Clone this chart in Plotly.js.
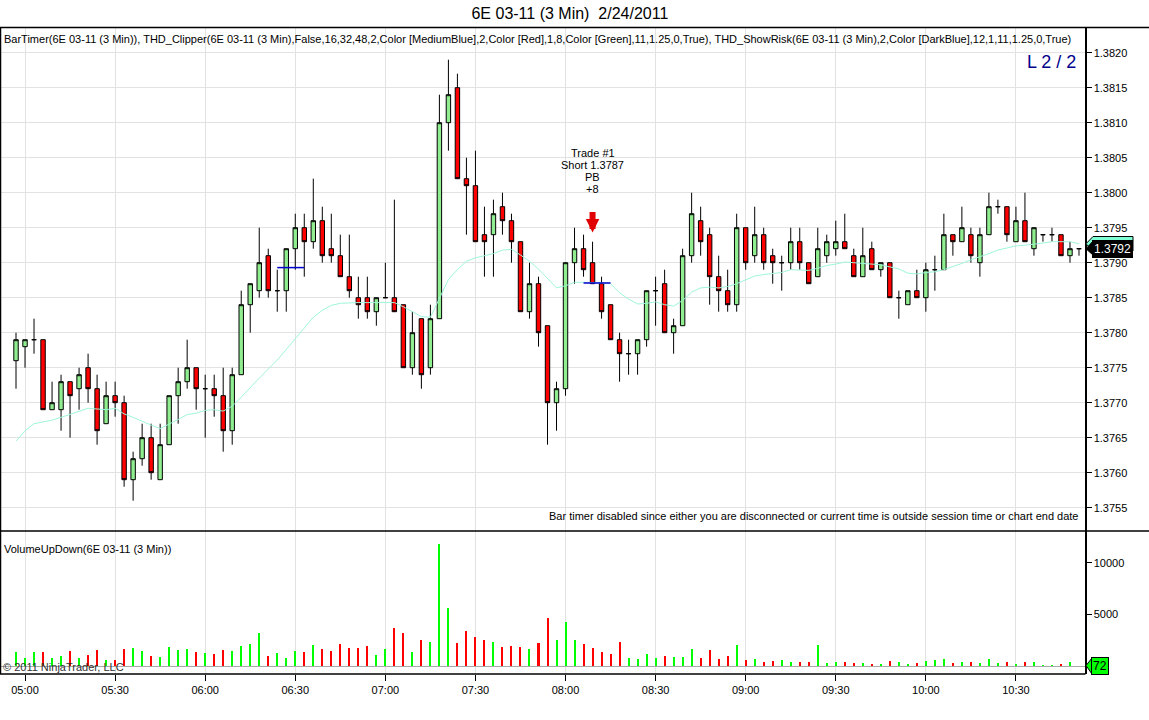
<!DOCTYPE html>
<html>
<head>
<meta charset="utf-8">
<script src="https://cdn.plot.ly/plotly-3.0.1.min.js"></script>
<style>
  html, body { margin: 0; padding: 0; background: #ffffff; }
  #chart { width: 1149px; height: 720px; }
</style>
</head>
<body>
<div id="chart"></div>
<script>
// ---------------- DATA ----------------
const sessionDate = '2011-02-24';
const firstBarTime = '04:57';
const barMinutes = 3;

const openPx = [
  1.3776,1.3778,1.3779,1.3779,1.3769,1.3769,1.3773,1.3772,1.3775,1.3772,
  1.3767,1.3771,1.3770,1.3759,1.3762,1.3765,1.3759,1.3764,1.3771,1.3773,
  1.3775,1.3772,1.3772,1.3771,1.3766,1.3774,1.3784,1.3786,1.3791,1.3786,
  1.3786,1.3792,1.3795,1.3793,1.3796,1.3792,1.3791,1.3788,1.3785,1.3785,
  1.3783,1.3785,1.3785,1.3784,1.3775,1.3782,1.3775,1.3782,1.3810,1.3815,
  1.3802,1.3801,1.3794,1.3794,1.3798,1.3796,1.3793,1.3783,1.3787,1.3781,
  1.3770,1.3772,1.3790,1.3792,1.3790,1.3787,1.3784,1.3779,1.3777,1.3777,
  1.3779,1.3786,1.3787,1.3780,1.3781,1.3791,1.3796,1.3794,1.3788,1.3786,
  1.3784,1.3795,1.3791,1.3794,1.3791,1.3790,1.3790,1.3793,1.3790,1.3788,
  1.3791,1.3792,1.3793,1.3791,1.3788,1.3792,1.3789,1.3790,1.3785,1.3784,
  1.3786,1.3785,1.3789,1.3789,1.3794,1.3793,1.3794,1.3790,1.3794,1.3798,
  1.3798,1.3793,1.3796,1.3792,1.3794,1.3794,1.3794,1.3791,1.3792
];
const highPx = [
  1.3780,1.3779,1.3782,1.3779,1.3773,1.3774,1.3773,1.3775,1.3777,1.3774,
  1.3773,1.3773,1.3771,1.3763,1.3767,1.3767,1.3767,1.3771,1.3775,1.3779,
  1.3775,1.3774,1.3774,1.3775,1.3775,1.3786,1.3787,1.3795,1.3792,1.3789,
  1.3792,1.3797,1.3797,1.3802,1.3798,1.3797,1.3794,1.3794,1.3788,1.3788,
  1.3785,1.3790,1.3799,1.3784,1.3783,1.3782,1.3784,1.3814,1.3819,1.3817,
  1.3805,1.3806,1.3798,1.3799,1.3800,1.3797,1.3793,1.3790,1.3788,1.3781,
  1.3773,1.3790,1.3795,1.3794,1.3793,1.3788,1.3784,1.3780,1.3779,1.3779,
  1.3786,1.3788,1.3789,1.3782,1.3792,1.3800,1.3798,1.3795,1.3791,1.3789,
  1.3797,1.3795,1.3798,1.3795,1.3792,1.3791,1.3795,1.3795,1.3790,1.3795,
  1.3794,1.3796,1.3797,1.3792,1.3795,1.3793,1.3790,1.3790,1.3786,1.3786,
  1.3789,1.3790,1.3791,1.3797,1.3794,1.3798,1.3795,1.3795,1.3800,1.3799,
  1.3798,1.3798,1.3800,1.3795,1.3794,1.3795,1.3794,1.3793,1.3792
];
const lowPx = [
  1.3772,1.3775,1.3777,1.3769,1.3769,1.3766,1.3765,1.3769,1.3770,1.3764,
  1.3767,1.3768,1.3758,1.3756,1.3761,1.3759,1.3759,1.3764,1.3767,1.3772,
  1.3769,1.3765,1.3768,1.3763,1.3764,1.3774,1.3780,1.3785,1.3785,1.3783,
  1.3783,1.3789,1.3788,1.3792,1.3790,1.3790,1.3788,1.3785,1.3782,1.3782,
  1.3781,1.3785,1.3783,1.3775,1.3774,1.3772,1.3774,1.3782,1.3806,1.3802,
  1.3794,1.3793,1.3788,1.3788,1.3794,1.3790,1.3783,1.3782,1.3778,1.3764,
  1.3766,1.3771,1.3787,1.3788,1.3787,1.3782,1.3779,1.3773,1.3774,1.3774,
  1.3778,1.3781,1.3780,1.3777,1.3781,1.3790,1.3791,1.3784,1.3783,1.3783,
  1.3783,1.3789,1.3790,1.3789,1.3787,1.3786,1.3789,1.3789,1.3787,1.3788,
  1.3790,1.3791,1.3792,1.3788,1.3788,1.3789,1.3788,1.3785,1.3782,1.3784,
  1.3785,1.3783,1.3786,1.3789,1.3791,1.3793,1.3790,1.3788,1.3794,1.3797,
  1.3793,1.3793,1.3793,1.3791,1.3793,1.3793,1.3791,1.3790,1.3791
];
const closePx = [
  1.3779,1.3779,1.3779,1.3769,1.3770,1.3773,1.3771,1.3774,1.3772,1.3766,
  1.3771,1.3770,1.3759,1.3762,1.3765,1.3760,1.3764,1.3771,1.3773,1.3775,
  1.3772,1.3772,1.3771,1.3766,1.3774,1.3784,1.3787,1.3790,1.3786,1.3786,
  1.3792,1.3795,1.3793,1.3796,1.3791,1.3791,1.3788,1.3786,1.3784,1.3783,
  1.3785,1.3785,1.3783,1.3775,1.3780,1.3774,1.3782,1.3810,1.3814,1.3802,
  1.3801,1.3793,1.3793,1.3797,1.3796,1.3793,1.3783,1.3787,1.3780,1.3770,
  1.3772,1.3790,1.3792,1.3789,1.3787,1.3783,1.3779,1.3777,1.3777,1.3779,
  1.3786,1.3786,1.3780,1.3781,1.3791,1.3797,1.3793,1.3788,1.3786,1.3784,
  1.3795,1.3790,1.3794,1.3790,1.3790,1.3790,1.3793,1.3790,1.3787,1.3792,
  1.3793,1.3793,1.3792,1.3788,1.3791,1.3789,1.3790,1.3785,1.3785,1.3786,
  1.3785,1.3789,1.3789,1.3794,1.3793,1.3795,1.3791,1.3794,1.3798,1.3798,
  1.3794,1.3796,1.3793,1.3795,1.3794,1.3794,1.3791,1.3792,1.3792
];
const volume = [
  1387,806,1387,1387,806,1000,1484,806,1097,1581,
  613,613,1677,1774,1484,1000,903,1871,1613,1677,
  1387,1290,1194,1581,1484,1968,2161,3226,1000,1290,
  806,1484,1387,2065,1677,1484,2161,1774,1774,1968,
  1097,1677,3710,3226,1387,2548,2355,11839,5645,2258,
  3419,2839,2548,2355,1871,1968,1871,1677,2258,4678,
  2548,4290,2548,2161,1774,1387,1194,2355,806,710,
  1194,806,1000,903,903,1677,806,1581,710,1000,
  2065,613,710,419,516,613,419,419,419,2065,
  323,419,419,323,323,226,226,516,419,226,
  323,516,613,710,323,419,419,323,710,323,
  419,226,419,419,129,129,226,419,72
];
const smaLine = [
  1.37645,1.37660,1.37670,1.37672,1.37675,1.37679,1.37683,1.37688,1.37692,1.37691,
  1.37690,1.37692,1.37684,1.37679,1.37673,1.37668,1.37663,1.37669,1.37676,1.37683,
  1.37685,1.37689,1.37690,1.37688,1.37695,1.37708,1.37722,1.37735,1.37748,1.37761,
  1.37776,1.37791,1.37807,1.37822,1.37832,1.37839,1.37842,1.37843,1.37843,1.37843,
  1.37843,1.37843,1.37843,1.37837,1.37830,1.37823,1.37822,1.37849,1.37876,1.37890,
  1.37902,1.37907,1.37910,1.37913,1.37918,1.37919,1.37911,1.37902,1.37891,1.37878,
  1.37864,1.37867,1.37872,1.37872,1.37872,1.37871,1.37870,1.37857,1.37848,1.37841,
  1.37842,1.37844,1.37840,1.37838,1.37846,1.37858,1.37864,1.37865,1.37864,1.37866,
  1.37870,1.37875,1.37881,1.37883,1.37884,1.37886,1.37890,1.37890,1.37889,1.37892,
  1.37896,1.37898,1.37901,1.37900,1.37899,1.37898,1.37897,1.37894,1.37891,1.37885,
  1.37884,1.37886,1.37887,1.37890,1.37894,1.37899,1.37904,1.37908,1.37913,1.37918,
  1.37921,1.37924,1.37925,1.37926,1.37928,1.37930,1.37930,1.37930,1.37927
];
// THD_Clipper levels: [price, first bar index, last bar index] (0-based)
const clipLevels = [1.37893, 1.37871];
const clipFrom = [29, 63];
const clipTo = [32, 66];
// Trade marker
const tradeBar = 64;
const tradeLines = ['Trade #1', 'Short 1.3787', 'PB', '+8'];
const priceTicks = [1.3755,1.3760,1.3765,1.3770,1.3775,1.3780,1.3785,1.3790,1.3795,1.3800,1.3805,1.3810,1.3815,1.3820];
const volTicks = [5000, 10000];

// ---------------- BUILD ----------------
function pad(n){ return (n < 10 ? '0' : '') + n; }
const times = [];
(function(){
  const p = firstBarTime.split(':');
  let m0 = parseInt(p[0],10)*60 + parseInt(p[1],10);
  for (let i = 0; i < openPx.length; i++) {
    const m = m0 + i*barMinutes;
    times.push(sessionDate + ' ' + pad(Math.floor(m/60)) + ':' + pad(m%60));
  }
})();

const volColors = openPx.map((o,i) => closePx[i] >= o ? '#00ff00' : '#ff0000');
const FONT = 'Liberation Sans, Arial, sans-serif';

const traces = [];
traces.push({
  type: 'scatter', mode: 'lines', x: times, y: smaLine,
  line: { color: '#9ff5dc', width: 1 }, xaxis: 'x', yaxis: 'y', hoverinfo: 'skip'
});
traces.push({
  type: 'candlestick', x: times, open: openPx, high: highPx, low: lowPx, close: closePx,
  xaxis: 'x', yaxis: 'y',
  increasing: { line: { color: '#000000', width: 1 }, fillcolor: '#90ee90' },
  decreasing: { line: { color: '#000000', width: 1 }, fillcolor: '#ff0000' },
  whiskerwidth: 0
});
for (let k = 0; k < clipLevels.length; k++) {
  traces.push({
    type: 'scatter', mode: 'lines',
    x: [times[clipFrom[k]], times[clipTo[k]]], y: [clipLevels[k], clipLevels[k]],
    line: { color: '#0000cd', width: 1.5 }, xaxis: 'x', yaxis: 'y', hoverinfo: 'skip'
  });
}
traces.push({
  type: 'bar', x: times, y: volume, width: 40000,
  marker: { color: volColors, line: { width: 0 } },
  xaxis: 'x', yaxis: 'y2'
});

// plot area: x 1..1085, y 27..674
const PT = 27, PB = 674, PH = PB - PT;
function py(Y){ return (PB - Y) / PH; }
function px(X){ return (X - 1) / 1084; }
const split = py(531);
// price-axis value for a pixel row (used for marker boxes only)
function priceAt(Y){ return 1.375167 + (531 - Y) / 70000; }
function volAt(Y){ return (666.3 - Y) * 96.5; }

const lastClose = closePx[closePx.length-1];
const lastSma = smaLine[smaLine.length-1];
const lastVol = volume[volume.length-1];

const annotations = [
  { xref:'paper', yref:'paper', x: px(2), y: py(39), xanchor:'left', yanchor:'middle', showarrow:false,
    text:'BarTimer(6E 03-11 (3 Min)), THD_Clipper(6E 03-11 (3 Min),False,16,32,48,2,Color [MediumBlue],2,Color [Red],1,8,Color [Green],11,1.25,0,True), THD_ShowRisk(6E 03-11 (3 Min),2,Color [DarkBlue],12,1,11,1.25,0,True)',
    font:{ family: FONT, size: 11, color:'#000000' } },
  { xref:'paper', yref:'paper', x: px(1078), y: py(62), xanchor:'right', yanchor:'middle', showarrow:false,
    text:'L 2 / 2', font:{ family: FONT, size: 18, color:'#00008b' } },
  { xref:'paper', yref:'paper', x: px(1081), y: py(516), xanchor:'right', yanchor:'middle', showarrow:false,
    text:'Bar timer disabled since either you are disconnected or current time is outside session time or chart end date',
    font:{ family: FONT, size: 11, color:'#000000' } },
  { xref:'paper', yref:'paper', x: px(2), y: py(549), xanchor:'left', yanchor:'middle', showarrow:false,
    text:'VolumeUpDown(6E 03-11 (3 Min))', font:{ family: FONT, size: 11, color:'#000000' } },
  { xref:'paper', yref:'paper', x: px(1), y: py(667), xanchor:'left', yanchor:'middle', showarrow:false,
    text:'© 2011 NinjaTrader, LLC', font:{ family: FONT, size: 11, color:'#333333' } },
  // trade arrow
  { xref:'x', yref:'y', x: times[tradeBar], y: 1.37943, ax: 0, ay: -22, showarrow:true,
    arrowhead: 2, arrowsize: 0.45, arrowwidth: 6, arrowcolor:'#e00000', standoff: 0, text:'' },
  // last price / last volume markers
  { xref:'paper', yref:'y', x: 1, y: lastClose, xanchor:'left', yanchor:'middle', xshift: 7,
    showarrow:false, text: lastClose.toFixed(4), bgcolor:'#000000', bordercolor:'#000000', borderwidth:1, borderpad:1,
    font:{ family: FONT, size: 12, color:'#ffffff' } },
  { xref:'paper', yref:'y2', x: 1, y: lastVol, xanchor:'left', yanchor:'middle', xshift: 6,
    showarrow:false, text: String(lastVol), bgcolor:'#00ff00', bordercolor:'#000000', borderwidth:1, borderpad:1,
    font:{ family: FONT, size: 12, color:'#000000' } }
];
const tradeLineY = [1.380567, 1.380396, 1.380224, 1.380053];
tradeLines.forEach((t, i) => {
  annotations.push({ xref:'x', yref:'y', x: times[tradeBar], y: tradeLineY[i], xanchor:'center', yanchor:'middle',
    showarrow:false, text: t, font:{ family: FONT, size: 11, color:'#000000' } });
});

const shapes = [
  { type:'line', xref:'paper', yref:'paper', x0: px(0), x1: px(1149), y0: py(27.5), y1: py(27.5), line:{ color:'#000000', width:1.5 } },
  { type:'line', xref:'paper', yref:'paper', x0: px(0), x1: px(1149), y0: split, y1: split, line:{ color:'#000000', width:1.5 } },
  { type:'line', xref:'paper', yref:'paper', x0: px(0), x1: px(1085.5), y0: 0, y1: 0, line:{ color:'#000000', width:1.5 } },
  { type:'line', xref:'paper', yref:'paper', x0: px(0.5), x1: px(0.5), y0: 0, y1: 1, line:{ color:'#000000', width:1.5 } },
  // SMA value marker (partly hidden behind the last-price box)
  { type:'path', xref:'paper', yref:'y', layer:'above',
    path: 'M ' + px(1086) + ',' + lastSma + ' L ' + px(1093) + ',' + priceAt(236.5) + ' L ' + px(1133) + ',' + priceAt(236.5) +
          ' L ' + px(1133) + ',' + priceAt(251) + ' L ' + px(1093) + ',' + priceAt(251) + ' Z',
    fillcolor:'#7fffd4', line:{ color:'#000000', width:1 } },
  // pointed tip of the last-price box
  { type:'path', xref:'paper', yref:'y', layer:'above',
    path: 'M ' + px(1086) + ',' + lastClose + ' L ' + px(1094) + ',' + priceAt(240) + ' L ' + px(1094) + ',' + priceAt(256) + ' Z',
    fillcolor:'#000000', line:{ color:'#000000', width:1 } },
  // pointed tip of the last-volume box
  { type:'path', xref:'paper', yref:'y2', layer:'above',
    path: 'M ' + px(1086) + ',' + lastVol + ' L ' + px(1092) + ',' + volAt(658) + ' L ' + px(1092) + ',' + volAt(674) + ' Z',
    fillcolor:'#00ff00', line:{ color:'#000000', width:1 } }
];

const layout = {
  width: 1149, height: 720,
  margin: { l: 1, r: 64, t: PT, b: 720 - PB, pad: 0 },
  paper_bgcolor: '#ffffff', plot_bgcolor: '#ffffff',
  showlegend: false,
  font: { family: FONT, size: 11, color: '#000000' },
  title: { text: '6E 03-11 (3 Min)  2/24/2011', x: 0.496, xanchor: 'center', y: 1 - 13/720, yanchor: 'middle',
           font: { family: FONT, size: 16, color: '#000000' } },
  xaxis: {
    type: 'date', range: [sessionDate + ' 04:52', sessionDate + ' 10:53'],
    anchor: 'y2', tickformat: '%H:%M', dtick: 1800000, tick0: sessionDate + ' 05:00',
    showgrid: true, gridcolor: '#e2e2e2', gridwidth: 1,
    ticks: 'outside', ticklen: 6, tickcolor: '#000000', tickwidth: 1,
    showline: false, zeroline: false,
    tickfont: { family: FONT, size: 11, color: '#000000' },
    rangeslider: { visible: false }, fixedrange: true
  },
  yaxis: {
    domain: [split, 1], range: [1.375167, 1.382367], side: 'right', anchor: 'x',
    tickvals: priceTicks, ticktext: priceTicks.map(v => v.toFixed(4)),
    showgrid: true, gridcolor: '#e2e2e2', gridwidth: 1,
    ticks: 'outside', ticklen: 5, tickcolor: '#000000',
    showline: true, linecolor: '#000000', linewidth: 1.5, zeroline: false,
    tickfont: { family: FONT, size: 11, color: '#000000' }, fixedrange: true
  },
  yaxis2: {
    domain: [0, split], range: [-743, 13056], side: 'right', anchor: 'x',
    tickvals: volTicks, ticktext: volTicks.map(String),
    showgrid: false,
    zeroline: true, zerolinecolor: '#a9a9a9', zerolinewidth: 1.5,
    ticks: 'outside', ticklen: 5, tickcolor: '#000000',
    showline: true, linecolor: '#000000', linewidth: 1.5,
    tickfont: { family: FONT, size: 11, color: '#000000' }, fixedrange: true
  },
  annotations: annotations,
  shapes: shapes,
  bargap: 0
};

Plotly.newPlot('chart', traces, layout, { displayModeBar: false, staticPlot: true });
</script>
</body>
</html>
